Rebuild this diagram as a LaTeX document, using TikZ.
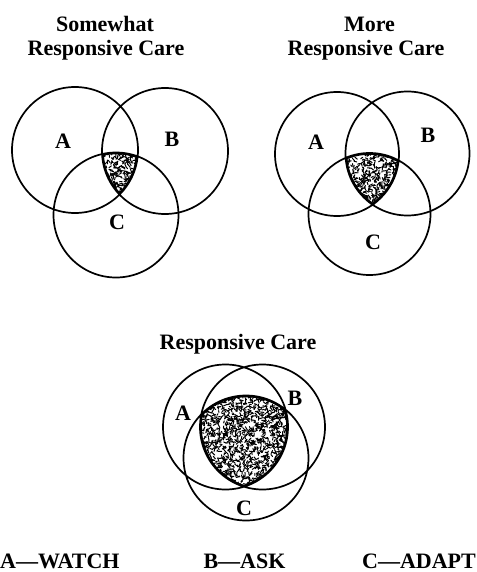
\documentclass[tikz,border=0pt]{standalone}
\usepackage{fontspec}
\setmainfont{Liberation Serif}
\begin{document}
\begin{tikzpicture}[x=1pt,y=-1pt,
  ring/.style={line width=1.7pt},
  rim/.style={line width=3.6pt},
  grain/.style={line width=1pt,line cap=round},
  txt/.style={inner sep=0pt,font=\bfseries\fontsize{22}{24}\selectfont},
  ttl/.style={txt,anchor=base},
  lbl/.style={txt,anchor=center}]
\useasboundingbox (0,0) rectangle (476,572);

% random short strokes giving the speckled texture of a shaded region
\newcommand\speckle[5]{%
  \foreach \k in {1,...,#5}{%
    \pgfmathsetmacro\sx{#1+rnd*(#3-#1)}%
    \pgfmathsetmacro\sy{#2+rnd*(#4-#2)}%
    \pgfmathsetmacro\sa{rnd*360}%
    \pgfmathsetmacro\sl{1.5+rnd*2.5}%
    \draw[grain] (\sx,\sy) -- ++(\sa:\sl);
  }}
\pgfmathsetseed{4711}

% ---------- Somewhat responsive care ----------
\coordinate (a1) at (75,150);
\coordinate (b1) at (165,151);
\coordinate (c1) at (116,215);
\begin{scope}
  \clip (a1) circle[radius=63pt];
  \clip (b1) circle[radius=63pt];
  \clip (c1) circle[radius=62.5pt];
  \speckle{100}{150}{140}{196}{330}
  \draw[rim] (a1) circle[radius=63pt] (b1) circle[radius=63pt] (c1) circle[radius=62.5pt];
\end{scope}
\draw[ring] (a1) circle[radius=63pt] (b1) circle[radius=63pt] (c1) circle[radius=62.5pt];
\node[ttl] (t1a) at (105,32) {Somewhat};
\node[ttl] (t1b) at (106,56) {Responsive Care};
\node[lbl] (la1) at (63,141) {A};
\node[lbl] (lb1) at (172,139) {B};
\node[lbl] (lc1) at (117,222) {C};

% ---------- More responsive care ----------
\coordinate (a2) at (337,154);
\coordinate (b2) at (407.5,153.5);
\coordinate (c2) at (369.5,214);
\begin{scope}
  \clip (a2) circle[radius=62pt];
  \clip (b2) circle[radius=62pt];
  \clip (c2) circle[radius=61pt];
  \speckle{343}{150}{402}{208}{620}
  \draw[rim] (a2) circle[radius=62pt] (b2) circle[radius=62pt] (c2) circle[radius=61pt];
\end{scope}
\draw[ring] (a2) circle[radius=62pt] (b2) circle[radius=62pt] (c2) circle[radius=61pt];
\node[ttl] (t2a) at (369.5,32) {More};
\node[ttl] (t2b) at (366,56) {Responsive Care};
\node[lbl] (la2) at (316,142) {A};
\node[lbl] (lb2) at (428,135) {B};
\node[lbl] (lc2) at (373,242) {C};

% ---------- Responsive care ----------
\coordinate (a3) at (225.5,427);
\coordinate (b3) at (262.5,427);
\coordinate (c3) at (246,458);
\begin{scope}
  \clip (a3) circle[radius=62.5pt];
  \clip (b3) circle[radius=62.5pt];
  \clip (c3) circle[radius=62.5pt];
  \speckle{196}{392}{291}{491}{1700}
  \draw[rim] (a3) circle[radius=62.5pt] (b3) circle[radius=62.5pt] (c3) circle[radius=62.5pt];
\end{scope}
\draw[ring] (a3) circle[radius=62.5pt] (b3) circle[radius=62.5pt] (c3) circle[radius=62.5pt];
\node[ttl] (t3) at (238,349) {Responsive Care};
\node[lbl] (la3) at (183,413) {A};
\node[lbl] (lb3) at (295,398) {B};
\node[lbl] (lc3) at (244,508) {C};

% ---------- legend ----------
\node[txt,anchor=base west] (ka) at (0,568) {A---WATCH};
\node[txt,anchor=base] (kb) at (244.5,568) {B---ASK};
\node[txt,anchor=base east] (kc) at (476,568) {C---ADAPT};
\end{tikzpicture}
\end{document}
